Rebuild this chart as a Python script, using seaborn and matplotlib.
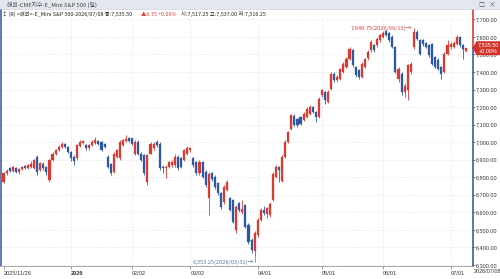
import numpy as np
import pandas as pd
import matplotlib
matplotlib.use("Agg")
import matplotlib.pyplot as plt
import seaborn as sns
from matplotlib.patches import Rectangle, Polygon
from matplotlib.lines import Line2D

# ---------------- data ----------------
start_date = "2025-11-26"
end_date = "2026-07-08"
holidays = ["2025-11-27", "2025-11-28", "2025-12-25", "2025-12-26", "2026-01-01",
            "2026-01-19", "2026-02-16", "2026-04-03", "2026-05-25"]

opens = [
    6774, 6822, 6850, 6835, 6850, 6830, 6845, 6866, 6852, 6860,
    6850, 6916, 6841, 6878, 6860, 6784, 6897, 6930, 6954, 6970,
    6990, 6975, 6945, 6916, 6907, 6980, 6995, 6985, 6964, 6983,
    6998, 7005, 7002, 6992, 6916, 6875, 6831, 6916, 6907, 6985,
    7005, 7022, 7021, 6935, 7002, 6935, 6926, 6774, 6935, 6964,
    7000, 6992, 6860, 6850, 6860, 6869, 6869, 6916, 6907, 6897,
    6935, 6955, 6907, 6888, 6822, 6888, 6831, 6680, 6822, 6803,
    6765, 6708, 6660, 6727, 6679, 6670, 6499, 6651, 6600, 6641,
    6527, 6440, 6380, 6470, 6556, 6613, 6590, 6584, 6670, 6802,
    6859, 6780, 6916, 7002, 7077, 7150, 7130, 7144, 7125, 7144,
    7163, 7201, 7172, 7144, 7267, 7286, 7229, 7305, 7390, 7353,
    7360, 7400, 7428, 7476, 7523, 7428, 7409, 7372, 7428, 7480,
    7523, 7552, 7552, 7580, 7599, 7632, 7620, 7600, 7542, 7362,
    7390, 7286, 7300, 7400, 7542, 7628, 7580, 7580, 7565, 7552,
    7560, 7485, 7470, 7428, 7400, 7504, 7540, 7545, 7561, 7599,
    7552, 7517.25,
]
closes = [
    6822, 6838, 6835, 6856, 6830, 6845, 6860, 6852, 6869, 6878,
    6897, 6831, 6880, 6850, 6831, 6897, 6935, 6954, 6973, 6992,
    6973, 6945, 6907, 6890, 6983, 7002, 7008, 6964, 6985, 7002,
    7011, 6992, 6954, 6975, 6860, 6822, 6935, 6954, 7002, 7012,
    7020, 7008, 6992, 7002, 6935, 6897, 6822, 6926, 6992, 6992,
    6985, 6850, 6850, 6860, 6888, 6888, 6916, 6850, 6860, 6954,
    6964, 6965, 6869, 6822, 6888, 6803, 6755, 6820, 6790, 6746,
    6708, 6632, 6746, 6774, 6613, 6547, 6632, 6613, 6620, 6518,
    6430, 6385, 6480, 6556, 6613, 6594, 6622, 6650, 6821, 6859,
    6840, 6916, 7002, 7058, 7153, 7100, 7095, 7106, 7163, 7191,
    7201, 7172, 7144, 7248, 7296, 7239, 7286, 7390, 7353, 7372,
    7419, 7447, 7476, 7533, 7438, 7381, 7372, 7447, 7476, 7515,
    7571, 7523, 7590, 7609, 7625, 7612, 7580, 7542, 7400, 7419,
    7286, 7320, 7438, 7445, 7628, 7590, 7504, 7561, 7545, 7495,
    7447, 7428, 7419, 7390, 7504, 7552, 7561, 7565, 7599, 7552,
    7528.75, 7535.50,
]
highs = [
    6830, 6845, 6858, 6862, 6856, 6850, 6866, 6872, 6876, 6895,
    6905, 6925, 6888, 6885, 6866, 6905, 6942, 6962, 6982, 7002,
    6998, 6980, 6950, 6925, 6990, 7010, 7015, 6990, 6992, 7010,
    7030, 7010, 7008, 6998, 6925, 6880, 6942, 6962, 7011, 7020,
    7040, 7030, 7025, 7010, 7010, 6945, 6930, 6935, 7000, 7000,
    7010, 7000, 6870, 6870, 6895, 6900, 6930, 6925, 6915, 6960,
    6980, 6975, 6915, 6895, 6900, 6895, 6840, 6830, 6830, 6810,
    6772, 6715, 6755, 6782, 6690, 6678, 6640, 6660, 6670, 6650,
    6540, 6455, 6495, 6565, 6625, 6635, 6630, 6658, 6830, 6868,
    6866, 6925, 7010, 7066, 7160, 7158, 7138, 7150, 7170, 7198,
    7210, 7208, 7180, 7255, 7305, 7292, 7295, 7398, 7398, 7380,
    7425, 7455, 7484, 7540, 7530, 7435, 7415, 7455, 7482, 7525,
    7585, 7560, 7598, 7615, 7632, 7640, 7628, 7609, 7548, 7428,
    7398, 7335, 7445, 7455, 7648.75, 7640, 7588, 7590, 7572, 7560,
    7568, 7492, 7478, 7435, 7512, 7580, 7570, 7575, 7610, 7605,
    7558, 7537.00,
]
lows = [
    6765, 6815, 6828, 6830, 6822, 6820, 6840, 6846, 6845, 6855,
    6845, 6812, 6835, 6842, 6815, 6770, 6890, 6925, 6948, 6965,
    6965, 6938, 6895, 6870, 6900, 6975, 6990, 6958, 6955, 6978,
    6992, 6985, 6948, 6968, 6850, 6812, 6822, 6910, 6900, 6980,
    7000, 7000, 6985, 6925, 6928, 6890, 6815, 6755, 6930, 6958,
    6975, 6840, 6825, 6793, 6850, 6860, 6860, 6840, 6850, 6890,
    6925, 6945, 6860, 6810, 6815, 6795, 6745, 6584, 6780, 6735,
    6700, 6620, 6650, 6720, 6605, 6538, 6480, 6600, 6590, 6510,
    6420, 6370, 6353.25, 6460, 6548, 6585, 6565, 6575, 6662, 6795,
    6770, 6772, 6908, 6995, 7070, 7092, 7088, 7098, 7118, 7138,
    7155, 7165, 7115, 7138, 7260, 7220, 7222, 7298, 7345, 7345,
    7352, 7392, 7420, 7470, 7430, 7372, 7360, 7365, 7420, 7470,
    7515, 7515, 7545, 7572, 7592, 7605, 7572, 7535, 7392, 7345,
    7267, 7260, 7239, 7390, 7530, 7580, 7495, 7550, 7535, 7488,
    7438, 7420, 7410, 7362, 7392, 7498, 7532, 7538, 7555, 7545,
    7476, 7516.25,
]
price_ticks = [6300, 6400, 6500, 6600, 6700, 6800, 6900, 7000, 7100,
               7200, 7300, 7400, 7500, 7600, 7700]
title_text = "해외-CME지수-E_Mini S&P 500 (일)"
info_main = "↕ (R) <해외>-E_Mini S&P 500-2026/07/08 종:7,535.50"
info_change = "▲6.75 +0.09%"
info_rest = "시:7,517.25 고:7,537.00 저:7,516.25"
last_close = 7535.50
last_pct = "+0.09%"
high_label = "7,648.75(2026/06/15)→"
low_label = "6,353.25(2026/03/31)→"
high_value = 7648.75
low_value = 6353.25
high_date = "2026-06-15"
low_date = "2026-03-31"

# ---------------- frame ----------------
dates = [d for d in pd.bdate_range(start_date, end_date)
         if d.strftime("%Y-%m-%d") not in holidays]
n = min(len(dates), len(opens))
df = pd.DataFrame({"date": dates[:n], "open": opens[:n], "close": closes[:n],
                   "high": highs[:n], "low": lows[:n]})
df["idx"] = np.arange(n)
df["up"] = df["close"] >= df["open"]

RED = "#dc3a30"
BLUE = "#2d58a6"

sns.set_theme(style="white")
KFONT = ["Noto Sans CJK KR", "DejaVu Sans"]
NFONT = ["Liberation Sans", "DejaVu Sans"]
plt.rcParams["font.family"] = NFONT
plt.rcParams["axes.unicode_minus"] = False

W, H = 500, 279
fig = plt.figure(figsize=(W / 100, H / 100), dpi=100)
fig.patch.set_facecolor("white")

def fx(px):
    return px / W

def fy(py):
    return 1 - py / H

ax = fig.add_axes([fx(2), fy(266), fx(472) - fx(2), fy(19) - fy(266)])
ax.set_facecolor("white")

# grid
for p in price_ticks:
    ax.axhline(p, color="#d9d9d9", lw=0.5, ls=(0, (1, 2)), zorder=0)

month_idx = [0]
month_lab = [df["date"].iloc[0].strftime("%Y/%m/%d")]
for i in range(1, n):
    d = df["date"].iloc[i]
    p = df["date"].iloc[i - 1]
    if d.month != p.month and d.year == 2026:
        month_idx.append(i)
        month_lab.append(str(d.year) if d.month == 1 else d.strftime("%m/%d"))
for i in month_idx[1:]:
    ax.axvline(i, color="#cfcfcf", lw=0.5, ls=(0, (1, 2)), zorder=0)

# candles
colors = np.where(df["up"], RED, BLUE)
ax.vlines(df["idx"], df["low"], df["high"], colors=colors, lw=0.6, zorder=2)
body_bottom = np.minimum(df["open"], df["close"])
body_h = np.maximum(np.abs(df["close"] - df["open"]), 2.5)
ax.bar(df["idx"], body_h, bottom=body_bottom, width=0.68, color=colors,
       edgecolor=colors, linewidth=0.2, zorder=3)

ax.set_xlim(-0.5, 153)
ax.set_ylim(6294, 7702)

# spines
for s in ["top", "left", "right"]:
    ax.spines[s].set_visible(False)
ax.spines["bottom"].set_color("#9a9a9a")
ax.spines["bottom"].set_linewidth(0.6)

# y ticks on the right
ax.yaxis.tick_right()
ax.set_yticks(price_ticks)
ax.set_yticklabels([f"{p:,.2f}" for p in price_ticks])
ax.tick_params(axis="y", which="major", length=1.8, width=0.5, color="#555555",
               labelsize=4.0, labelcolor="#333333", pad=1.2, right=True, left=False)

# x ticks
ax.set_xticks(month_idx)
ax.set_xticklabels(month_lab)
ax.tick_params(axis="x", which="major", length=2.5, width=0.5, color="#777777",
               labelsize=4.1, labelcolor="#333333", pad=1.2, bottom=True)
for lab in ax.get_xticklabels():
    lab.set_horizontalalignment("left")
    if lab.get_text() == "2026":
        lab.set_fontweight("bold")
week_idx = [i for i, d in enumerate(df["date"]) if d.weekday() == 0]
ax.set_xticks(week_idx, minor=True)
ax.tick_params(axis="x", which="minor", length=1.5, width=0.4, color="#999999")

# annotations
hi_i = int(df.index[df["date"] == pd.Timestamp(high_date)][0])
lo_i = int(df.index[df["date"] == pd.Timestamp(low_date)][0])
ax.text(hi_i - 0.6, high_value, high_label, color="#d8443c", fontsize=4.1,
        ha="right", va="center", family=KFONT, zorder=5)
ax.text(lo_i - 0.4, 6318, low_label, color="#5a76a8", fontsize=4.1,
        ha="right", va="center", family=KFONT, zorder=5)
ax.plot([lo_i, lo_i], [6318, low_value - 4], color="#5a76a8", lw=0.5, zorder=5)

# ---------------- figure decorations ----------------
fig.patches.append(Rectangle((0, fy(9)), 1, 9 / H, transform=fig.transFigure,
                             facecolor="#e3e8ef", edgecolor="none", zorder=0))
fig.lines.append(Line2D([0, 1], [fy(9), fy(9)], transform=fig.transFigure,
                        color="#c9d0da", lw=0.5))
fig.text(fx(7), fy(4.6), title_text, fontsize=4.2, color="#444444",
         va="center", ha="left", family=KFONT)
fig.text(fx(478), fy(4.6), "□", fontsize=4.4, color="#555555",
         va="center", ha="left", family=KFONT)
fig.text(fx(489), fy(4.6), "×", fontsize=5.0, color="#555555",
         va="center", ha="left", family=KFONT)

fig.text(fx(2), fy(14), info_main, fontsize=3.9, color="#222222",
         va="center", ha="left", family=KFONT)
fig.text(fx(141), fy(14), info_change, fontsize=3.9, color="#d8443c",
         va="center", ha="left", family=KFONT)
fig.text(fx(181), fy(14), info_rest, fontsize=3.9, color="#222222",
         va="center", ha="left", family=KFONT)

# left border line
fig.lines.append(Line2D([fx(1.2), fx(1.2)], [fy(10), fy(266)],
                        transform=fig.transFigure, color="#3554a0", lw=1.1))

# right axis line: red above current price, blue below
y_last = ax.transData.transform((0, last_close))[1] / fig.bbox.height
fig.lines.append(Line2D([fx(472.5), fx(472.5)], [fy(10), y_last],
                        transform=fig.transFigure, color="#cf2f28", lw=1.1))
fig.lines.append(Line2D([fx(472.5), fx(472.5)], [y_last, fy(266)],
                        transform=fig.transFigure, color="#2d4f9a", lw=1.1))

# current price tag
yl = y_last * H  # from bottom in px
tag = Polygon([(fx(472.5), y_last), (fx(476.5), (yl + 7) / H),
               (fx(500), (yl + 7) / H), (fx(500), (yl - 7) / H),
               (fx(476.5), (yl - 7) / H)], closed=True, transform=fig.transFigure,
              facecolor="#d3332b", edgecolor="none", zorder=10)
fig.patches.append(tag)
fig.text(fx(488), (yl + 3.2) / H, f"{last_close:,.2f}", fontsize=4.0, color="white",
         ha="center", va="center", zorder=11)
fig.text(fx(488), (yl - 3.3) / H, last_pct, fontsize=4.0, color="white",
         ha="center", va="center", zorder=11)

# last date under right axis
fig.text(fx(473.5), fy(271.5), df["date"].iloc[-1].strftime("%Y/%m/%d"),
         fontsize=4.0, color="#333333", ha="left", va="center")

fig.savefig("out.png", dpi=100, facecolor="white")
